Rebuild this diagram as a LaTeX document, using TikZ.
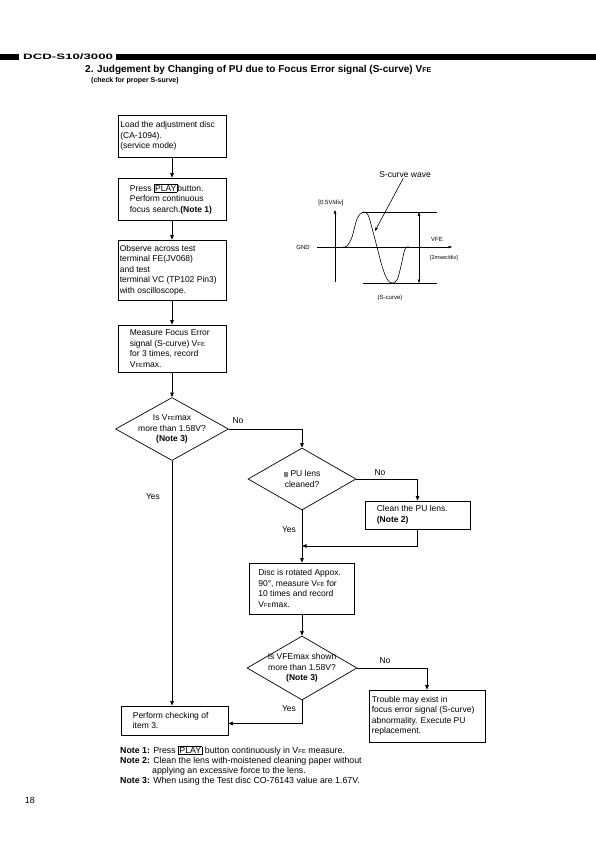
\documentclass[tikz,border=0pt]{standalone}
\usepackage{fontspec}
\setmainfont{Liberation Sans}
\usepackage{graphicx}
\usetikzlibrary{arrows.meta,shapes.geometric,calc}
\newcommand{\vfe}{V\kern0.1pt{\fontsize{5.8}{5.8}\selectfont FE}}
\newcommand{\keycap}[1]{{\setlength{\fboxsep}{0.7pt}\setlength{\fboxrule}{0.5pt}\fbox{#1}}}
\begin{document}
\begin{tikzpicture}[x=1pt,y=-1pt,
  every node/.style={inner sep=0pt},
  box/.style={draw, line width=0.7pt},
  tx/.style={align=left, font=\fontsize{8.5}{10.5}\selectfont},
  ctx/.style={align=center, font=\fontsize{8.5}{10.5}\selectfont},
  notetx/.style={align=left, font=\fontsize{8.8}{10.5}\selectfont},
  dia/.style={diamond, draw, line width=0.7pt},
  link/.style={line width=0.8pt},
  arr/.style={link, -{Triangle[length=4.5pt,width=3.5pt]}},
  lbl/.style={font=\fontsize{8.5}{10}\selectfont},
  small/.style={font=\fontsize{6}{7}\selectfont},
  thinline/.style={line width=0.5pt},
  thinarr/.style={thinline, -{Triangle[length=3.5pt,width=2.6pt]}}
]
\useasboundingbox (0,0) rectangle (596,841);
% header
\fill (0,54) rectangle (19,60);
\fill (116,54) rectangle (596,60);
\node[anchor=west] (hdr) at (23,57.2) {\scalebox{1.7}[1]{\fontsize{7.8}{8}\selectfont\bfseries DCD-S10/3000}};
% title
\node[anchor=west, font=\fontsize{10}{12}\selectfont\bfseries] (title) at (85,70) {2. Judgement by Changing of PU due to Focus Error signal (S-curve) V{\fontsize{7}{7}\selectfont FE}};
\node[anchor=west, font=\fontsize{7}{9}\selectfont\bfseries] (sub) at (91,80.5) {(check for proper S-surve)};

% left column
\node[box, minimum width=108pt, minimum height=42pt] (b1) at (172,136) {};
\node[tx, anchor=west] at ([xshift=2.5pt]b1.west) {Load the adjustment disc\\(CA-1094).\\(service mode)};
\node[box, minimum width=108pt, minimum height=42pt] (b2) at (172,199) {};
\node[tx, anchor=west] at ([xshift=12pt]b2.west) {Press \keycap{PLAY}button.\\Perform continuous\\focus search.\textbf{(Note 1)}};
\node[box, minimum width=108pt, minimum height=60pt] (b3) at (172,270) {};
\node[tx, anchor=west] at ([xshift=2pt]b3.west) {Observe across test\\terminal FE(JV068)\\and test\\terminal VC (TP102 Pin3)\\with oscilloscope.};
\node[box, minimum width=108pt, minimum height=47pt] (b4) at (172,348.5) {};
\node[tx, anchor=west] at ([xshift=12pt]b4.west) {Measure Focus Error\\signal (S-curve) \vfe\\for 3 times, record\\\vfe max.};
\node[dia, minimum width=113pt, minimum height=63pt] (d1) at (172,429) {};
\node[ctx] at (d1) {Is \vfe max\\more than 1.58V?\\\textbf{(Note 3)}};
\node[box, minimum width=107pt, minimum height=29pt] (bperf) at (174.5,720.5) {};
\node[tx, anchor=west] at ([xshift=12pt]bperf.west) {Perform checking of\\item 3.};

% right column
\node[dia, minimum width=108pt, minimum height=62pt] (d2) at (302,479) {};
\node[ctx] at (d2) {\textcolor{gray}{\rule{4.5pt}{4.5pt}} PU lens\\cleaned?};
\node[box, minimum width=105pt, minimum height=28pt] (bclean) at (417.5,515) {};
\node[tx, anchor=west] at ([xshift=12pt]bclean.west) {Clean the PU lens.\\\textbf{(Note 2)}};
\node[box, minimum width=105pt, minimum height=51pt] (b5) at (302,588.5) {};
\node[tx, anchor=west] at ([xshift=9pt]b5.west) {Disc is rotated Appox.\\90°, measure \vfe\ for\\10 times and record\\\vfe max.};
\node[dia, minimum width=110pt, minimum height=64pt] (d3) at (302,668) {};
\node[ctx] at (d3) {Is VFEmax shown\\more than 1.58V?\\\textbf{(Note 3)}};
\node[box, minimum width=116pt, minimum height=52pt] (btr) at (427,716) {};
\node[tx, anchor=west] at ([xshift=3pt]btr.west) {Trouble may exist in\\focus error signal (S-curve)\\abnormality. Execute PU\\replacement.};

% connectors
\draw[arr] (b1) -- (b2);
\draw[arr] (b2) -- (b3);
\draw[arr] (b3) -- (b4);
\draw[arr] (b4) -- (d1);
\draw[arr] (d1.east) -| (d2.north);
\draw[arr] (d1.south) -- (d1.south |- bperf.north);
\draw[arr] (d2.east) -| (bclean.north);
\coordinate (m2) at (302,546);
\draw[arr] (bclean.south) |- (m2);
\draw[arr] (d2.south) -- (b5.north);
\draw[arr] (b5) -- (d3);
\draw[arr] (d3.east) -| (btr.north);
\draw[arr] (d3.south) |- ([yshift=-3pt]bperf.east);

% branch labels
\node[lbl] (no1) at (238,421) {No};
\node[lbl] (yes1) at (153,497) {Yes};
\node[lbl] (no2) at (380,473) {No};
\node[lbl] (yes2) at (289,530) {Yes};
\node[lbl] (no3) at (385,661) {No};
\node[lbl] (yes3) at (289,709) {Yes};

% notes
\node[notetx, anchor=west] (n1) at (120,751) {\textbf{Note 1:} Press \keycap{PLAY} button continuously in \vfe\ measure.};
\node[notetx, anchor=west] (n2) at (120,761) {\textbf{Note 2:} Clean the lens with-moistened cleaning paper without};
\node[notetx, anchor=west] (n2b) at (152,771) {applying an excessive force to the lens.};
\node[notetx, anchor=west] (n3) at (120,781) {\textbf{Note 3:} When using the Test disc CO-76143 value are 1.67V.};
\node[font=\fontsize{9}{10}\selectfont] (page) at (30,800) {18};

% S-curve graph
\node[font=\fontsize{8.5}{10}\selectfont] (swave) at (405,175) {S-curve wave};
\coordinate (swtip) at (375,231);
\draw[thinarr, line width=0.6pt] (swave) -- (swtip);
\node[small] (vdiv) at (331,203) {[0.5V/div]};
\coordinate (ax0) at (335,282);
\coordinate (ax1) at (335,210);
\draw[thinarr] (ax0) -- (ax1);
\node[small] (gnd) at (303,247) {GND};
\coordinate (g0) at (317,247);
\coordinate (g1) at (452,247);
\draw[thinarr] (g0) -- (g1);
\coordinate (t0) at (363,212);
\coordinate (t1) at (437,212);
\coordinate (u0) at (363,283);
\coordinate (u1) at (437,283);
\draw[thinline] (t0) -- (t1);
\draw[thinline] (u0) -- (u1);
\coordinate (va) at (419,212);
\coordinate (vb) at (419,283);
\draw[thinline, {Triangle[length=3.5pt,width=2.6pt]}-{Triangle[length=3.5pt,width=2.6pt]}] (va) -- (vb);
\node[small] (vfelbl) at (437,239) {VFE};
\node[font=\fontsize{5.5}{6}\selectfont] (hdiv) at (444,258) {[2msec/div]};
\node[small] (scap) at (390,298) {(S-curve)};
\draw[line width=0.6pt] plot[smooth, tension=0.6] coordinates {(343,247) (347,246) (352,237) (357,219) (363,212) (368,215) (372,228) (377,247) (382,266) (387,279) (392,283) (397,280) (401,266) (405,249) (409,247)};
\end{tikzpicture}
\end{document}
